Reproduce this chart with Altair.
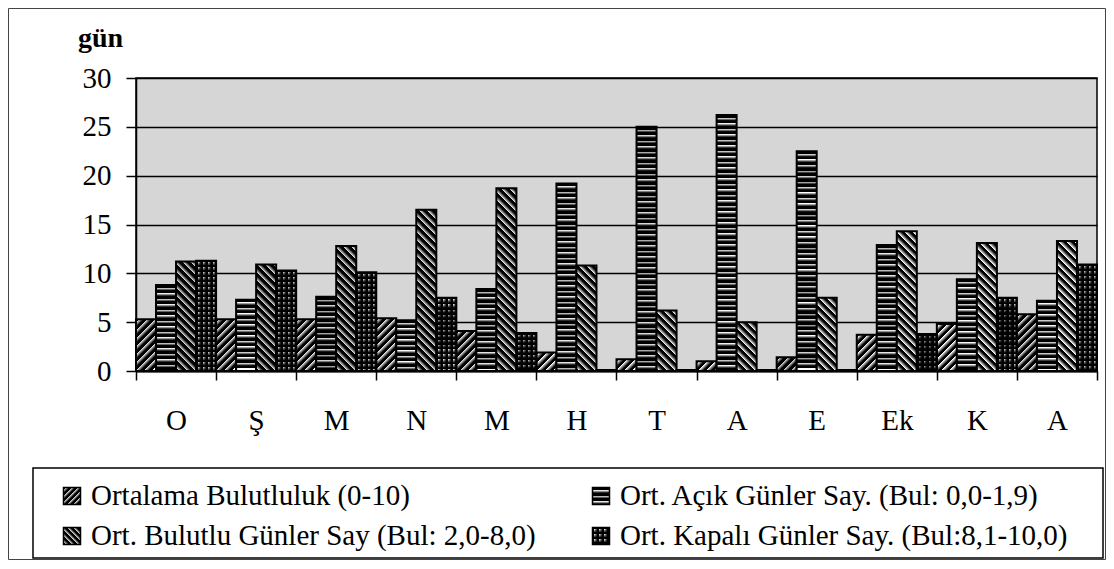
import json
import altair as alt

# ---------------- data ----------------
months = ["O", "Ş", "M", "N", "M", "H", "T", "A", "E", "Ek", "K", "A"]
series = [
    "Ortalama Bulutluluk (0-10)",
    "Ort. Açık Günler Say. (Bul: 0,0-1,9)",
    "Ort. Bulutlu Günler Say (Bul: 2,0-8,0)",
    "Ort. Kapalı Günler Say. (Bul:8,1-10,0)",
]
ortalama = [5.3, 5.3, 5.3, 5.4, 4.1, 1.9, 1.2, 1.0, 1.4, 3.7, 4.8, 5.8]
acik = [8.8, 7.3, 7.6, 5.2, 8.4, 19.2, 25.0, 26.2, 22.5, 12.9, 9.4, 7.2]
bulutlu = [11.2, 10.9, 12.8, 16.5, 18.7, 10.8, 6.2, 5.0, 7.5, 14.3, 13.1, 13.3]
kapali = [11.3, 10.3, 10.1, 7.5, 3.9, 0.1, 0.1, 0.1, 0.1, 3.8, 7.5, 10.9]
y_ticks = [0, 5, 10, 15, 20, 25, 30]
legend_col = [0, 1, 0, 1]
legend_row = [0, 0, 1, 1]

# ---------------- layout / style ----------------
W, H = 961, 293
YMAX = 30
FONT = "Liberation Serif"
kinds = ["fwd", "wave", "back", "grid"]
BLACK, WHITE, CLEAR = "#000000", "#ffffff", "rgba(0,0,0,0)"


def stripes(L, period, frac, on, off):
    L = max(L, 1.0)
    stops = [{"offset": 0, "color": off}]
    k = 0
    while k * period < L:
        a = round(k * period / L, 5)
        b = round(min((k * period + frac * period) / L, 1.0), 5)
        stops += [{"offset": a, "color": on}, {"offset": b, "color": on}, {"offset": b, "color": off}]
        k += 1
    return stops


def pattern(kind, w, h, per=8.0):
    h = max(h, 1.0)
    if kind in ("fwd", "back"):
        d = w * w + h * h
        gx, gy = (w + h) * w / d, (w + h) * h / d
        st = stripes(w + h, per, 0.38, BLACK, WHITE)
        if kind == "fwd":
            return {"gradient": "linear", "x1": 0, "y1": 0, "x2": gx, "y2": gy, "stops": st}
        return {"gradient": "linear", "x1": 0, "y1": 1, "x2": gx, "y2": 1 - gy, "stops": st}
    if kind == "wave":
        return {"gradient": "linear", "x1": 0, "y1": 0, "x2": 0, "y2": 1,
                "stops": stripes(h, 5.5, 0.5, BLACK, WHITE)}
    # grid: horizontal lines (vertical ones come from the overlay)
    return {"gradient": "linear", "x1": 0, "y1": 0, "x2": 0, "y2": 1,
            "stops": stripes(h, 5.0, 0.35, BLACK, WHITE)}


def overlay(kind, w, h):
    if kind != "grid":
        return CLEAR
    return {"gradient": "linear", "x1": 0, "y1": 0, "x2": 1, "y2": 0,
            "stops": stripes(w, 5.0, 0.35, BLACK, CLEAR)}


bar_w = W / len(months) / len(series)
px = H / YMAX
records = []
for name, kind, vals in zip(series, kinds, [ortalama, acik, bulutlu, kapali]):
    for mi, v in enumerate(vals):
        records.append({
            "m": mi, "series": name, "value": v,
            "pat": pattern(kind, bar_w, v * px),
            "pat2": overlay(kind, bar_w, v * px),
        })

SYM = 17
legend_records = []
for name, kind, c, r in zip(series, kinds, legend_col, legend_row):
    legend_records.append({
        "label": name, "col": c, "row": r,
        "pat": pattern(kind, SYM, SYM, per=6.0),
        "pat2": overlay(kind, SYM, SYM),
    })

label_expr = json.dumps(months, ensure_ascii=False) + "[datum.value]"

x_enc = alt.X(
    "m:O",
    scale=alt.Scale(domain=list(range(len(months))), paddingInner=0, paddingOuter=0),
    axis=alt.Axis(
        title=None, labelExpr=label_expr, labelAngle=0, tickBand="extent",
        tickSize=9, tickColor="black", tickWidth=1.5, domainColor="black", domainWidth=2,
        labelFontSize=29, labelPadding=40, labelBaseline="middle", grid=False,
    ),
)
xoff_enc = alt.XOffset(
    "series:N", scale=alt.Scale(domain=series, paddingInner=0, paddingOuter=0)
)
y_enc = alt.Y(
    "value:Q", stack=None,
    scale=alt.Scale(domain=[0, YMAX], nice=False),
    axis=alt.Axis(
        values=y_ticks, grid=True, gridColor="black", gridWidth=1.5,
        domainColor="black", domainWidth=1.5, tickColor="black", tickWidth=1.5, tickSize=10,
        labelFontSize=29, labelPadding=15,
        title="gün", titleAngle=0, titleFontWeight="bold", titleFontSize=28,
        titleX=-36, titleY=-40, titleAlign="center", titleBaseline="middle",
    ),
)

base = alt.Chart(alt.Data(values=records))
bars = base.mark_bar(stroke="black", strokeWidth=2).encode(
    x=x_enc, xOffset=xoff_enc, y=y_enc, fill=alt.Fill("pat:N", scale=None)
)
grid_over = base.mark_bar().encode(
    x=x_enc, xOffset=xoff_enc, y=y_enc, fill=alt.Fill("pat2:N", scale=None)
)
main = alt.layer(bars, grid_over)

# ---------------- legend (drawn below the plot) ----------------
leg = alt.Chart(alt.Data(values=legend_records))
lx = alt.X("col:Q", scale=alt.Scale(domain=[0, 1], range=[-64, 465]), axis=None)
ly = alt.Y("row:Q", scale=alt.Scale(domain=[0, 1], range=[418, 458]), axis=None)
one = alt.Chart(alt.Data(values=[{"k": 1}]))
frame = one.mark_rect(filled=False, stroke="#444444", strokeWidth=1).encode(
    x=alt.value(-127.5), x2=alt.value(969.5), y=alt.value(-69.5), y2=alt.value(481.5)
)
box = one.mark_rect(filled=False, stroke="black", strokeWidth=1.5).encode(
    x=alt.value(-103), x2=alt.value(967), y=alt.value(390), y2=alt.value(480)
)
sym = leg.mark_square(size=SYM * SYM, stroke="black", strokeWidth=1.5, opacity=1).encode(
    x=lx, y=ly, fill=alt.Fill("pat:N", scale=None)
)
sym_over = leg.mark_square(size=SYM * SYM, opacity=1).encode(
    x=lx, y=ly, fill=alt.Fill("pat2:N", scale=None)
)
txt = leg.mark_text(align="left", baseline="middle", dx=19, font=FONT, fontSize=29,
                    color="black").encode(x=lx, y=ly, text="label:N")
legend = alt.layer(frame, box, sym, sym_over, txt)

chart = (
    alt.layer(main, legend)
    .resolve_scale(x="independent", y="independent")
    .properties(
        width=W, height=H,
        padding={"left": 128, "top": 70, "right": 9, "bottom": 189},
        autosize=alt.AutoSizeParams(type="none"),
    )
    .configure(font=FONT)
    .configure_axis(labelFont=FONT, titleFont=FONT, labelColor="black", titleColor="black")
    .configure_view(fill="#d6d6d6", stroke="black", strokeWidth=1.5)
)

chart.save("out.html", embed_options={"renderer": "svg", "actions": False})
